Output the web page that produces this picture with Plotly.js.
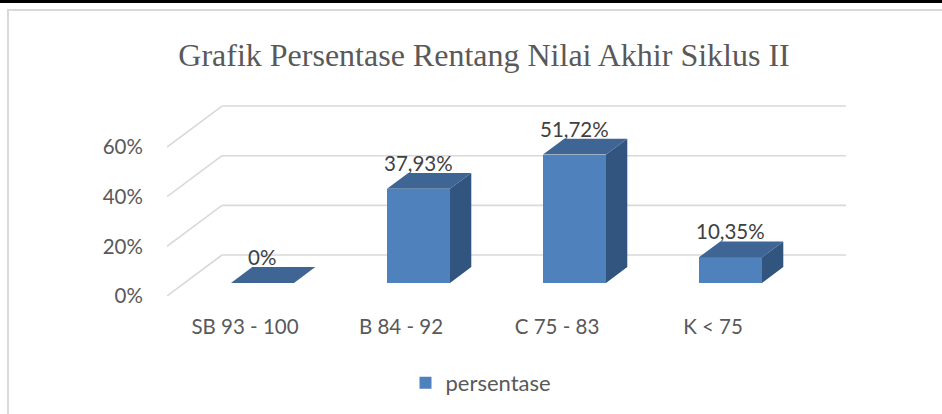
<!DOCTYPE html>
<html>
<head>
<meta charset="utf-8">
<script src="https://cdn.plot.ly/plotly-3.0.1.min.js"></script>
<style>
  html, body { margin: 0; padding: 0; background: #ffffff; }
  #topbar { position: absolute; left: 0; top: 0; width: 942px; height: 3px; background: #000000; }
  #frame { position: absolute; left: 7px; top: 9px; width: 940px; height: 410px;
           border-left: 2px solid #D9D9D9; border-top: 2px solid #D9D9D9; }
  #chart { position: absolute; left: 0; top: 0; width: 942px; height: 414px; }
</style>
</head>
<body>
<div id="topbar"></div>
<div id="frame"></div>
<div id="chart"></div>
<script>
// ---- data ----
const categories = ['SB 93 - 100', 'B 84 - 92', 'C 75 - 83', 'K < 75'];
const values = [0, 37.93, 51.72, 10.35];
const valueLabels = ['0%', '37,93%', '51,72%', '10,35%'];
const yTickVals = [0, 20, 40, 60];
const yTickText = ['0%', '20%', '40%', '60%'];
const seriesName = 'persentase';
const chartTitle = 'Grafik Persentase Rentang Nilai Akhir Siklus II';

// ---- pseudo-3D geometry (in axis units) ----
const DX = 0.3526;      // full depth shift along x (category units)
const DY = 16.51;       // full depth shift along y (percent units)
const Z_FRONT = 0.318;  // bar front plane depth
const Z_BACK = 0.705;   // bar back plane depth
const BAR_W = 0.404;    // bar width (category units)
const X0 = -0.5, X1 = categories.length - 0.5;

const idx = categories.map((c, i) => i);
const frontX = idx.map(i => i + Z_FRONT * DX);

// top faces & side faces as filled polygons
const topX = [], topY = [], sideX = [], sideY = [];
idx.forEach(i => {
  const v = values[i];
  const xl = i - BAR_W / 2, xr = i + BAR_W / 2;
  topX.push(xl + Z_FRONT * DX, xr + Z_FRONT * DX, xr + Z_BACK * DX, xl + Z_BACK * DX, xl + Z_FRONT * DX, null);
  topY.push(v + Z_FRONT * DY, v + Z_FRONT * DY, v + Z_BACK * DY, v + Z_BACK * DY, v + Z_FRONT * DY, null);
  if (v > 0) {
    sideX.push(xr + Z_FRONT * DX, xr + Z_BACK * DX, xr + Z_BACK * DX, xr + Z_FRONT * DX, xr + Z_FRONT * DX, null);
    sideY.push(Z_FRONT * DY, Z_BACK * DY, v + Z_BACK * DY, v + Z_FRONT * DY, Z_FRONT * DY, null);
  }
});

const FONT = 'Lato, "Open Sans", sans-serif';

const traces = [
  {
    type: 'bar', name: seriesName, x: frontX, y: values,
    base: Z_FRONT * DY, width: BAR_W,
    marker: { color: '#4F81BD', line: { width: 0 } },
    hoverinfo: 'skip', showlegend: true
  },
  {
    type: 'scatter', mode: 'lines', x: sideX, y: sideY, fill: 'toself',
    fillcolor: '#32557F', line: { width: 0, color: '#32557F' },
    hoverinfo: 'skip', showlegend: false
  },
  {
    type: 'scatter', mode: 'lines', x: topX, y: topY, fill: 'toself',
    fillcolor: '#3E6594', line: { width: 0, color: '#3E6594' },
    hoverinfo: 'skip', showlegend: false
  }
];

const shapes = [];
yTickVals.forEach(v => {
  shapes.push({ type: 'line', xref: 'x', yref: 'y', layer: 'below',
    x0: X0 + DX, y0: v + DY, x1: X1 + DX, y1: v + DY,
    line: { color: '#D9D9D9', width: 1.6 } });
  shapes.push({ type: 'line', xref: 'x', yref: 'y', layer: 'below',
    x0: X0, y0: v, x1: X0 + DX, y1: v + DY,
    line: { color: '#D9D9D9', width: 1.6 } });
});

const annotations = idx.map(i => ({
  x: frontX[i], y: values[i] + Z_BACK * DY, xref: 'x', yref: 'y',
  text: valueLabels[i], showarrow: false, yanchor: 'middle', yshift: 10,
  font: { family: FONT, size: 20.5, color: '#404040' }
}));

const layout = {
  width: 942, height: 414,
  margin: { l: 167, r: 96, t: 90, b: 118 },
  paper_bgcolor: 'rgba(0,0,0,0)', plot_bgcolor: 'rgba(0,0,0,0)',
  title: {
    text: chartTitle, xref: 'container', yref: 'container',
    x: 484 / 942, xanchor: 'center', y: 1 - 55 / 414, yanchor: 'middle',
    font: { family: '"Liberation Serif", "Times New Roman", serif', size: 32, color: '#595959' }
  },
  xaxis: {
    range: [X0, X1 + DX], tickvals: idx, ticktext: categories,
    showgrid: false, zeroline: false, showline: false,
    ticks: 'outside', ticklen: 12, tickcolor: 'rgba(0,0,0,0)',
    tickfont: { family: FONT, size: 20.5, color: '#595959' }, fixedrange: true
  },
  yaxis: {
    range: [0, 206 / 2.483], tickvals: yTickVals, ticktext: yTickText,
    showgrid: false, zeroline: false, showline: false,
    ticks: 'outside', ticklen: 19, tickcolor: 'rgba(0,0,0,0)',
    tickfont: { family: FONT, size: 20.5, color: '#595959' }, fixedrange: true
  },
  showlegend: true,
  legend: {
    orientation: 'h', xref: 'container', yref: 'container',
    x: 481 / 942, xanchor: 'center', y: 1 - 383 / 414, yanchor: 'middle',
    font: { family: FONT, size: 22, color: '#595959' }, bgcolor: 'rgba(0,0,0,0)'
  },
  shapes: shapes,
  annotations: annotations,
  bargap: 0
};

Plotly.newPlot('chart', traces, layout, { displayModeBar: false, staticPlot: true });
</script>
</body>
</html>
